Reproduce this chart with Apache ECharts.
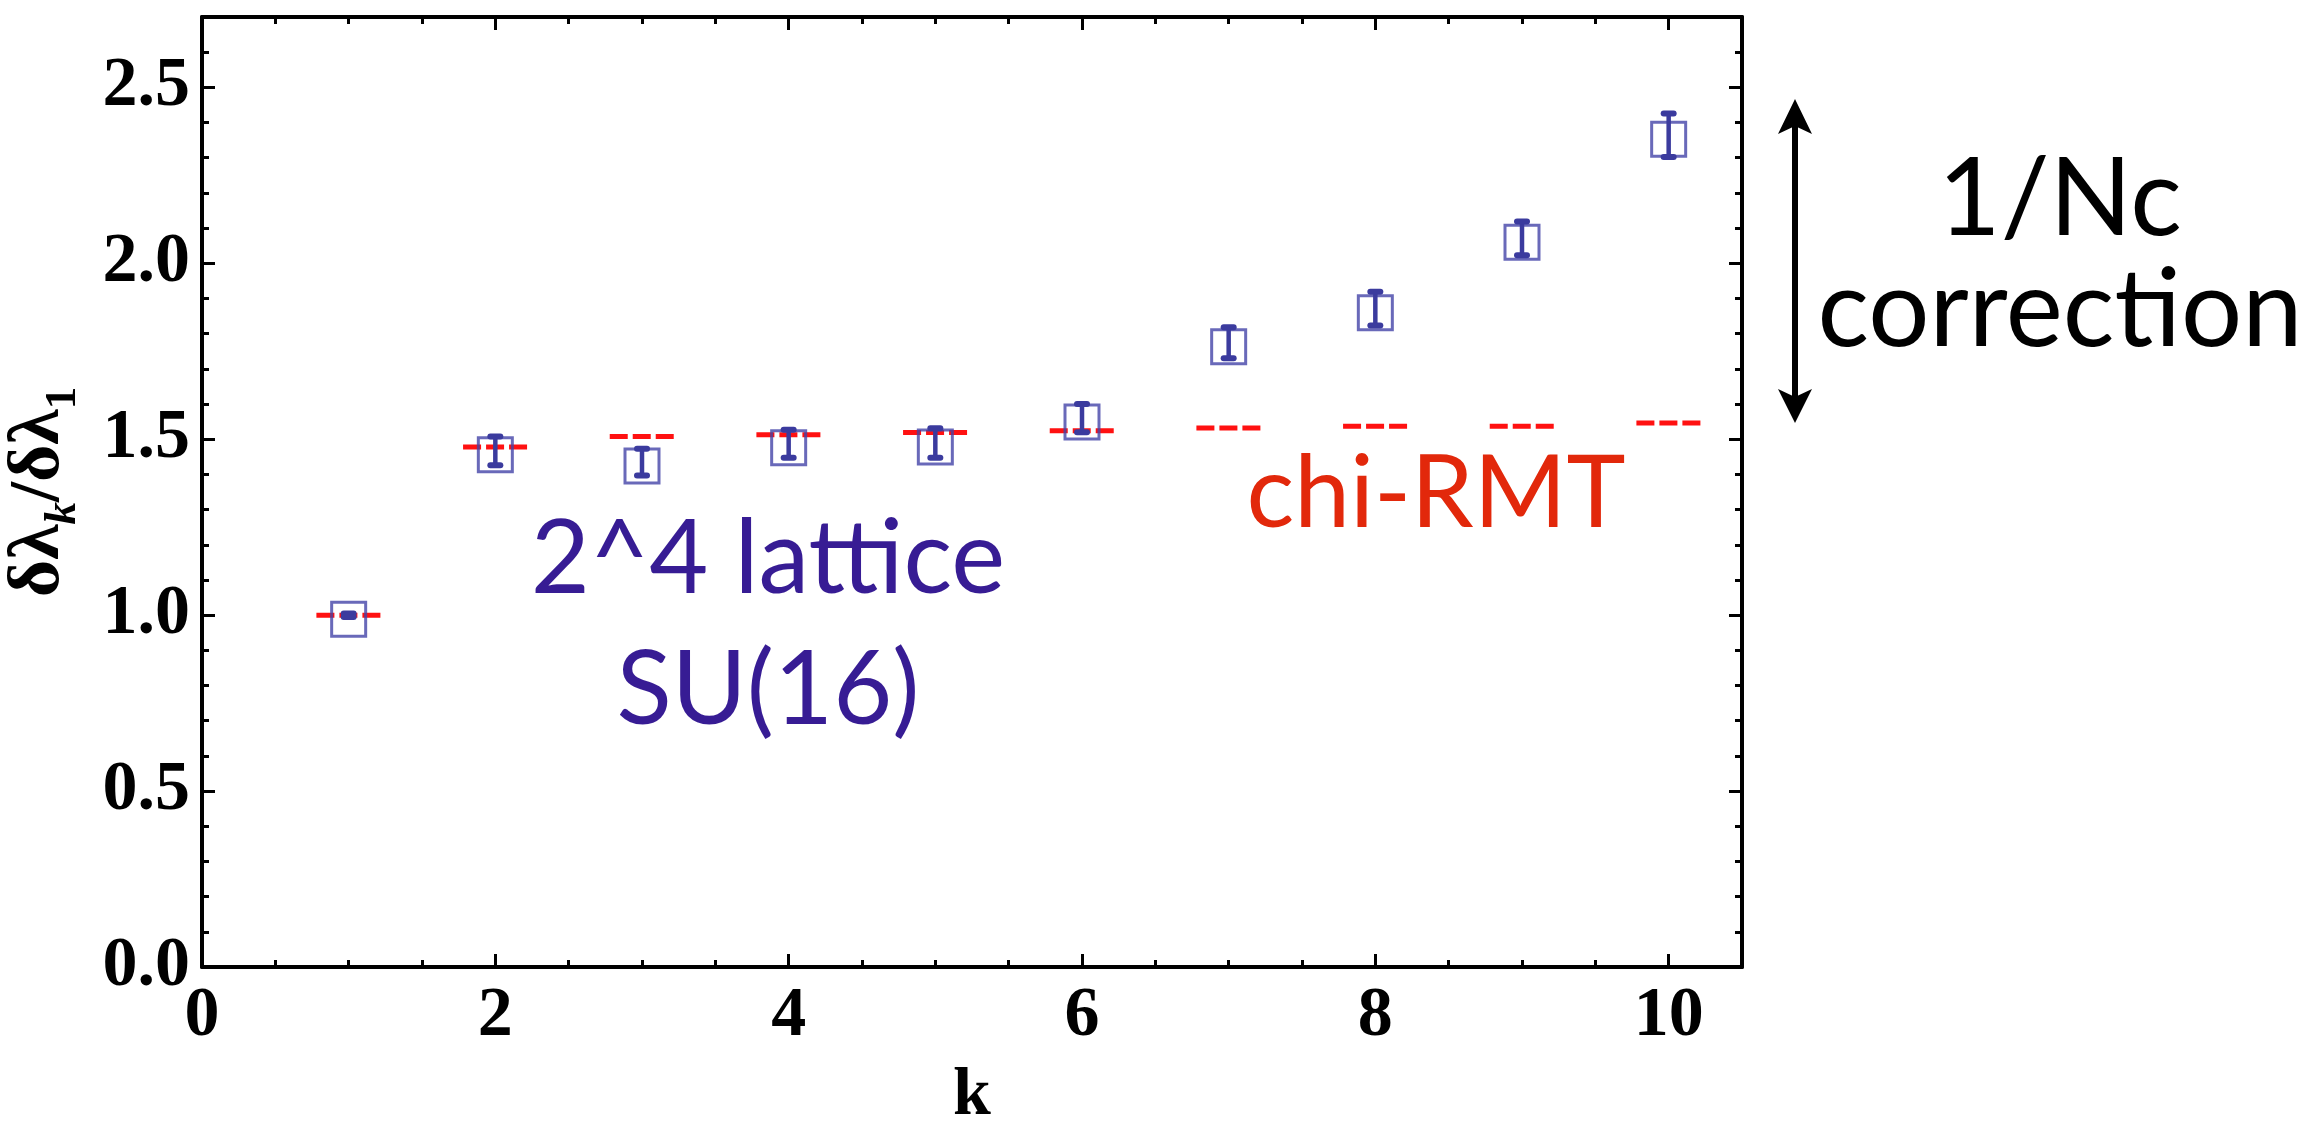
<!DOCTYPE html>
<html>
<head>
<meta charset="utf-8">
<script src="https://cdn.jsdelivr.net/npm/echarts@6/dist/echarts.min.js"></script>
<style>
html,body{margin:0;padding:0;background:#fff;}
#chart{width:2324px;height:1121px;}
</style>
</head>
<body>
<div id="chart"></div>
<script>
// ---- data ----
const kValues = [1, 2, 3, 4, 5, 6, 7, 8, 9, 10];
const latticeValues = [1.0, 1.467, 1.435, 1.487, 1.489, 1.56, 1.774, 1.871, 2.071, 2.364];
const latticeErrors = [0.005, 0.041, 0.038, 0.04, 0.042, 0.04, 0.044, 0.048, 0.048, 0.062];
const rmtValues = [1.0, 1.478, 1.508, 1.513, 1.519, 1.524, 1.532, 1.537, 1.537, 1.546];
const xTickValues = [0, 2, 4, 6, 8, 10];
const yTickValues = [0.0, 0.5, 1.0, 1.5, 2.0, 2.5];
const labelLattice = ['2^4 lattice', 'SU(16)'];
const labelRmt = 'chi-RMT';
const labelNc = ['1/Nc', 'correction'];

// ---- styling ----
const BOX = '#4343a8';
const ERR = '#3b3b9e';
const RED = '#ff1111';
const SERIF = '"Liberation Serif","DejaVu Serif",serif';
const SANS = 'Lato,"Open Sans",sans-serif';
const HALF = 0.22;

const chart = echarts.init(document.getElementById('chart'), null, {renderer: 'canvas'});

const frameLine = {show: true, onZero: false, lineStyle: {color: '#000', width: 4}};
function majorAxis(pos, max, interval, extra) {
  return Object.assign({
    type: 'value', position: pos, min: 0, max: max, interval: interval,
    axisLine: frameLine,
    axisTick: {show: true, inside: true, length: 13, lineStyle: {color: '#000', width: 3}},
    axisLabel: {show: false},
    splitLine: {show: false},
    minorTick: {show: false}
  }, extra || {});
}
function minorAxis(pos, max, interval) {
  return {
    type: 'value', position: pos, min: 0, max: max, interval: interval,
    axisLine: {show: false, onZero: false},
    axisTick: {show: true, inside: true, length: 7, lineStyle: {color: '#000', width: 3}},
    axisLabel: {show: false},
    splitLine: {show: false}
  };
}

const option = {
  animation: false,
  backgroundColor: '#fff',
  grid: {left: 202, right: 582, top: 17, bottom: 154, containLabel: false, outerBoundsMode: 'none'},
  xAxis: [
    majorAxis('bottom', 10.5, 2, {
      axisLabel: {
        show: true, showMaxLabel: false, margin: 15,
        fontFamily: SERIF, fontWeight: 'bold', fontSize: 70, color: '#000',
        formatter: v => xTickValues.indexOf(v) >= 0 ? String(v) : ''
      },
      name: 'k', nameLocation: 'middle', nameGap: 95,
      nameTextStyle: {fontFamily: SERIF, fontWeight: 'bold', fontSize: 68, color: '#000'}
    }),
    minorAxis('bottom', 10.5, 0.5),
    majorAxis('top', 10.5, 2),
    minorAxis('top', 10.5, 0.5)
  ],
  yAxis: [
    majorAxis('left', 2.7, 0.5, {
      axisLabel: {
        show: true, showMaxLabel: false, margin: 12,
        fontFamily: SERIF, fontWeight: 'bold', fontSize: 70, color: '#000',
        formatter: v => yTickValues.some(t => Math.abs(t - v) < 1e-9) ? v.toFixed(1) : ''
      },
      name: '{a|δλ}{s|k}{a|/δλ}{t|1}', nameLocation: 'middle', nameGap: 116,
      nameTextStyle: {
        color: '#000',
        rich: {
          a: {fontFamily: SERIF, fontWeight: 'bold', fontSize: 72, lineHeight: 94, verticalAlign: 'middle', color: '#000'},
          s: {fontFamily: SERIF, fontWeight: 'bold', fontStyle: 'italic', fontSize: 45, lineHeight: 45, verticalAlign: 'bottom', color: '#000'},
          t: {fontFamily: SERIF, fontWeight: 'bold', fontSize: 45, lineHeight: 45, verticalAlign: 'bottom', color: '#000'}
        }
      }
    }),
    minorAxis('left', 2.7, 0.1),
    majorAxis('right', 2.7, 0.5),
    minorAxis('right', 2.7, 0.1)
  ],
  series: [
    {
      name: 'chi-RMT', type: 'custom', xAxisIndex: 0, yAxisIndex: 0, z: 1,
      data: kValues.map((k, i) => [k, rmtValues[i]]),
      renderItem: function (params, api) {
        const x = api.value(0), v = api.value(1);
        const a = api.coord([x - HALF, v]);
        const b = api.coord([x + HALF, v]);
        return {
          type: 'line',
          shape: {x1: a[0], y1: a[1], x2: b[0], y2: b[1]},
          style: {stroke: RED, lineWidth: 5, lineDash: [18, 5]}
        };
      }
    },
    {
      name: 'lattice box', type: 'scatter', xAxisIndex: 0, yAxisIndex: 0, z: 2,
      data: kValues.map((k, i) => [k, latticeValues[i]]),
      symbol: 'rect', symbolSize: 34, symbolOffset: [0, 4],
      itemStyle: {color: 'rgba(255,255,255,0)', borderColor: BOX, borderWidth: 3}
    },
    {
      name: 'lattice error', type: 'custom', xAxisIndex: 0, yAxisIndex: 0, z: 3,
      data: kValues.map((k, i) => [k, latticeValues[i], latticeErrors[i]]),
      renderItem: function (params, api) {
        const x = api.value(0), v = api.value(1), e = api.value(2);
        const top = api.coord([x, v + e]);
        const bot = api.coord([x, v - e]);
        const cw = 5;
        return {
          type: 'group',
          children: [
            {type: 'line', shape: {x1: top[0], y1: top[1], x2: bot[0], y2: bot[1]},
             style: {stroke: ERR, lineWidth: 4.5}},
            {type: 'line', shape: {x1: top[0] - cw, y1: top[1], x2: top[0] + cw, y2: top[1]},
             style: {stroke: ERR, lineWidth: 6, lineCap: 'round'}},
            {type: 'line', shape: {x1: bot[0] - cw, y1: bot[1], x2: bot[0] + cw, y2: bot[1]},
             style: {stroke: ERR, lineWidth: 6, lineCap: 'round'}}
          ]
        };
      }
    }
  ],
  graphic: [
    {type: 'text', style: {text: labelLattice[0], x: 768, y: 560, fill: '#371c94',
      font: '102px ' + SANS, align: 'center', verticalAlign: 'middle'}},
    {type: 'text', style: {text: labelLattice[1], x: 768, y: 691, fill: '#371c94',
      font: '102px ' + SANS, align: 'center', verticalAlign: 'middle'}},
    {type: 'text', style: {text: labelRmt, x: 1436, y: 495, fill: '#e2280b',
      font: '100px ' + SANS, align: 'center', verticalAlign: 'middle'}},
    {type: 'text', style: {text: labelNc[0], x: 2060, y: 200, fill: '#000',
      font: '108px ' + SANS, align: 'center', verticalAlign: 'middle'}},
    {type: 'text', style: {text: labelNc[1], x: 2060, y: 311, fill: '#000',
      font: '108px ' + SANS, align: 'center', verticalAlign: 'middle'}},
    {type: 'line', shape: {x1: 1795, y1: 125, x2: 1795, y2: 397},
      style: {stroke: '#000', lineWidth: 6}},
    {type: 'polygon', shape: {points: [[1795, 99], [1778, 134], [1795, 126], [1812, 134]]},
      style: {fill: '#000'}},
    {type: 'polygon', shape: {points: [[1795, 423], [1778, 389], [1795, 397], [1812, 389]]},
      style: {fill: '#000'}}
  ]
};
chart.setOption(option);
</script>
</body>
</html>
